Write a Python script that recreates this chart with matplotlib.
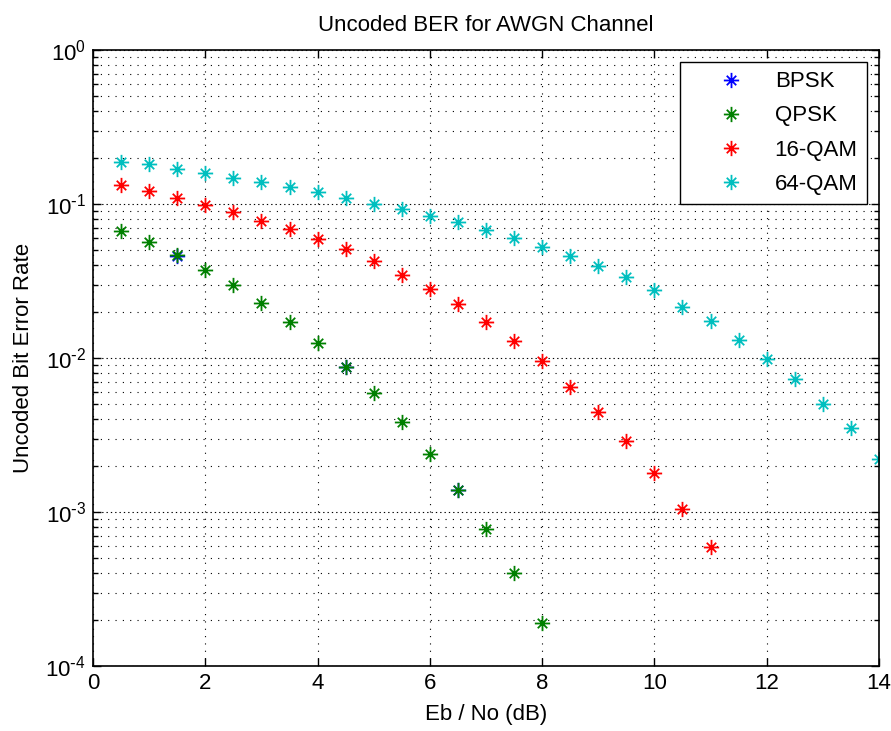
import matplotlib
matplotlib.use('Agg')
import matplotlib.pyplot as plt
import numpy as np
from matplotlib.path import Path
from matplotlib.ticker import FuncFormatter

# Eb/No axis (dB)
ebno_bpsk = [1.5, 4.5, 6.5]
ebno_qpsk = [0.5, 1, 1.5, 2, 2.5, 3, 3.5, 4, 4.5, 5, 5.5, 6, 6.5, 7, 7.5, 8]
ebno_16qam = [0.5, 1, 1.5, 2, 2.5, 3, 3.5, 4, 4.5, 5, 5.5, 6, 6.5, 7, 7.5, 8,
              8.5, 9, 9.5, 10, 10.5, 11]
ebno_64qam = [0.5, 1, 1.5, 2, 2.5, 3, 3.5, 4, 4.5, 5, 5.5, 6, 6.5, 7, 7.5, 8,
              8.5, 9, 9.5, 10, 10.5, 11, 11.5, 12, 12.5, 13, 13.5, 14]

# BER values
ber_bpsk = [0.046, 0.0088, 0.0014]
ber_qpsk = [0.067, 0.0563, 0.0464, 0.0375, 0.0297, 0.0229, 0.0172, 0.0125,
            0.0088, 0.00595, 0.00386, 0.00239, 0.0014, 0.00077, 0.0004, 0.00019]
ber_16qam = [0.132, 0.122, 0.109, 0.098, 0.0884, 0.0773, 0.0687, 0.0593,
             0.0513, 0.0427, 0.0345, 0.0279, 0.0225, 0.0172, 0.0128, 0.0095,
             0.0065, 0.00445, 0.0029, 0.0018, 0.00105, 0.00059]
ber_64qam = [0.186, 0.183, 0.168, 0.158, 0.147, 0.138, 0.128, 0.119,
             0.109, 0.1005, 0.0925, 0.0833, 0.0769, 0.0677, 0.0604, 0.0528,
             0.0462, 0.0395, 0.0336, 0.0277, 0.0213, 0.0173, 0.0131, 0.0098,
             0.0073, 0.005, 0.0035, 0.0022]

# matlab style asterisk marker: plus + shorter cross
d = 0.62
verts = [(-1, 0), (1, 0), (0, -1), (0, 1), (-d, -d), (d, d), (-d, d), (d, -d)]
codes = [Path.MOVETO, Path.LINETO] * 4
star = Path(verts, codes)

plt.rcParams['font.family'] = ['Liberation Sans', 'DejaVu Sans']
fs = 16

fig = plt.figure(figsize=(8.91, 7.31), dpi=100)
ax = fig.add_axes([0.1044, 0.0889, 0.8821, 0.8427])

kw = dict(linestyle='none', marker=star, markersize=11, markeredgewidth=1.3)
ax.semilogy(ebno_bpsk, ber_bpsk, color='#0000ff', label='BPSK', **kw)
ax.semilogy(ebno_qpsk, ber_qpsk, color='#008000', label='QPSK', **kw)
ax.semilogy(ebno_16qam, ber_16qam, color='#ff0000', label='16-QAM', **kw)
ax.semilogy(ebno_64qam, ber_64qam, color='#00bfbf', label='64-QAM', **kw)

ax.set_xlim(0, 14)
ax.set_ylim(1e-4, 1)
ax.set_xticks(range(0, 15, 2))
ax.set_yticks([1e-4, 1e-3, 1e-2, 1e-1, 1])

def dec_fmt(v, pos):
    e = int(round(np.log10(v)))
    if e < 0:
        return r'$\mathdefault{10^{\text{-}%d}}$' % (-e)
    return r'$\mathdefault{10^{%d}}$' % e

ax.yaxis.set_major_formatter(FuncFormatter(dec_fmt))

sparse = (0, (1, 5.6))
dense = (0, (1.2, 2.7))
ax.xaxis.grid(True, which='major', color='black', linestyle=sparse, linewidth=0.8)
ax.yaxis.grid(True, which='minor', color='black', linestyle=sparse, linewidth=0.8)
ax.yaxis.grid(True, which='major', color='black', linestyle=dense, linewidth=0.8)
ax.set_axisbelow(True)

ax.tick_params(which='both', direction='in', top=True, right=True, labelsize=fs)
ax.tick_params(which='major', length=6, width=1, pad=5)
ax.tick_params(which='minor', length=3.5, width=1)
for s in ax.spines.values():
    s.set_linewidth(1.2)

ax.set_title('Uncoded BER for AWGN Channel', fontsize=fs, pad=13.5)
ax.set_xlabel('Eb / No (dB)', fontsize=fs, labelpad=7)
ax.set_ylabel('Uncoded Bit Error Rate', fontsize=fs, labelpad=8)

leg = ax.legend(loc='upper right', fontsize=fs, fancybox=False, framealpha=1,
                edgecolor='black', borderaxespad=0.56, labelspacing=0.59,
                handlelength=3.8, handletextpad=0.05, borderpad=0.4)
leg.get_frame().set_linewidth(1)

fig.savefig('out.png', dpi=100)
